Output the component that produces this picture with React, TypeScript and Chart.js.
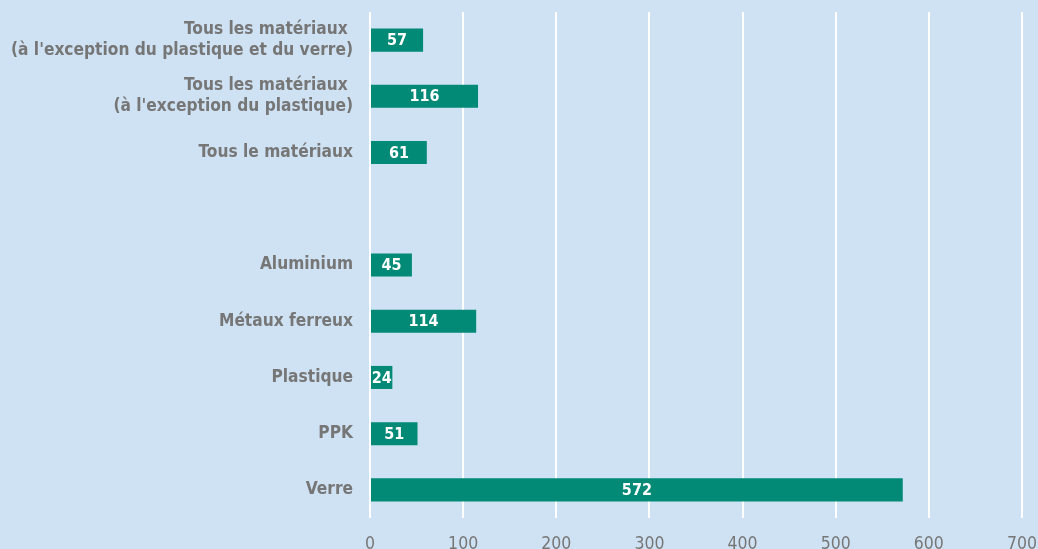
import React, { useEffect, useRef } from "react";
import { Chart, registerables } from "chart.js";

Chart.register(...registerables);

const categories: (string | string[])[] = [
  ["Tous les matériaux ", "(à l'exception du plastique et du verre)"],
  ["Tous les matériaux ", "(à l'exception du plastique)"],
  "Tous le matériaux",
  "",
  "Aluminium",
  "Métaux ferreux",
  "Plastique",
  "PPK",
  "Verre",
];
const values: (number | null)[] = [57, 116, 61, null, 45, 114, 24, 51, 572];
const xTicks: number[] = [0, 100, 200, 300, 400, 500, 600, 700];

const FONT = "'DejaVu Sans Condensed', 'DejaVu Sans', sans-serif";
const BG = "#cfe2f3";
const BAR = "#028a77";
const GREY = "#767676";

const barLabels = {
  id: "barLabels",
  afterDatasetsDraw(chart: any) {
    const ctx = chart.ctx;
    const meta = chart.getDatasetMeta(0);
    ctx.save();
    ctx.fillStyle = "#ffffff";
    ctx.font = `bold 16px ${FONT}`;
    ctx.textAlign = "center";
    ctx.textBaseline = "middle";
    meta.data.forEach((el: any, i: number) => {
      const v = values[i];
      if (v === null || v === undefined) return;
      const { x, y, base } = el.getProps(["x", "y", "base"], true);
      ctx.fillText(String(v), (x + base) / 2, y + 1);
    });
    ctx.restore();
  },
};

export default function App() {
  const ref = useRef<HTMLCanvasElement>(null);
  useEffect(() => {
    if (!ref.current) return;
    const chart = new Chart(ref.current, {
      type: "bar",
      data: {
        labels: categories,
        datasets: [
          {
            data: values,
            backgroundColor: BAR,
            borderWidth: 0,
            barPercentage: 0.41,
            categoryPercentage: 1,
          },
        ],
      },
      options: {
        indexAxis: "y",
        animation: false,
        responsive: false,
        devicePixelRatio: 1,
        layout: { padding: { top: 12, right: 28, left: 0, bottom: 0 } },
        plugins: {
          legend: { display: false },
          tooltip: { enabled: false },
        },
        scales: {
          x: {
            min: 0,
            max: 700,
            afterBuildTicks: (s: any) => {
              s.ticks = xTicks.map((v) => ({ value: v }));
            },
            afterFit: (s: any) => {
              s.height = 42;
              s.paddingLeft = 0;
              s.paddingRight = 0;
            },
            grid: { color: "#ffffff", lineWidth: 2, drawTicks: false },
            border: { display: false },
            ticks: {
              padding: 16,
              color: GREY,
              font: { family: FONT, size: 17.5, weight: "normal" },
            },
          },
          y: {
            afterFit: (s: any) => {
              s.width = 370;
              s.paddingTop = 0;
              s.paddingBottom = 0;
            },
            grid: { display: false, drawTicks: false },
            border: { display: false },
            ticks: {
              padding: 17,
              color: GREY,
              font: { family: FONT, size: 17.2, weight: "bold", lineHeight: 1.24 },
            },
          },
        },
      },
      plugins: [barLabels],
    });
    return () => chart.destroy();
  }, []);

  return (
    <div
      style={{
        position: "fixed",
        left: 0,
        top: 0,
        width: 1038,
        height: 549,
        overflow: "hidden",
        background: BG,
      }}
    >
      <canvas ref={ref} width={1050} height={560} style={{ display: "block" }} />
    </div>
  );
}
